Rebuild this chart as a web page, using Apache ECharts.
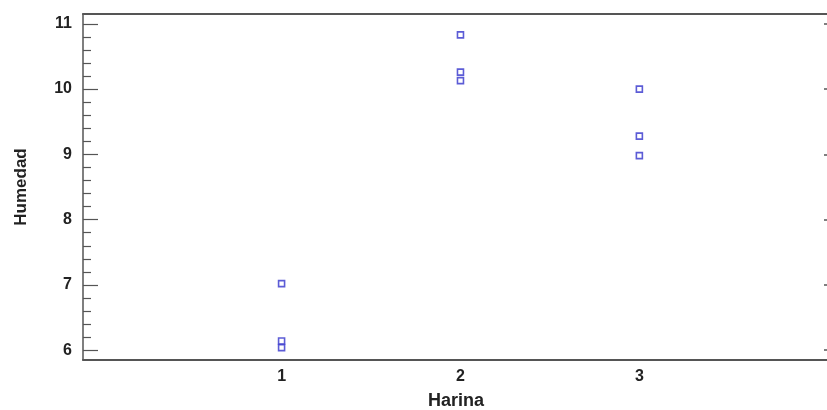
<!DOCTYPE html>
<html>
<head>
<meta charset="utf-8">
<script src="https://cdn.jsdelivr.net/npm/echarts@6/dist/echarts.min.js"></script>
<style>html,body{margin:0;padding:0;background:#fff}#c{width:827px;height:410px}</style>
</head>
<body>
<div id="c"></div>
<script>
const categories = [1, 2, 3];
const harina1 = [7.02, 6.14, 6.04];
const harina2 = [10.83, 10.26, 10.13];
const harina3 = [10.0, 9.28, 8.98];
const yTicks = [6, 7, 8, 9, 10, 11];
const xLabel = 'Harina';
const yLabel = 'Humedad';

const groups = [harina1, harina2, harina3];
const points = [];
groups.forEach((g, i) => g.forEach(v => points.push([categories[i], v])));
const minorTicks = [];
for (let i = 0; i < yTicks.length - 1; i++) {
  for (let k = 1; k < 5; k++) minorTicks.push(+(yTicks[i] + k * 0.2).toFixed(2));
}

const font = '"Liberation Sans", Arial, sans-serif';
const axisCol = '#555';
const txtCol = '#222';
const chart = echarts.init(document.getElementById('c'));
chart.setOption({
  animation: false,
  grid: { left: 83, right: -2, top: 14, bottom: 50, show: false, containLabel: false, outerBoundsMode: 'none' },
  xAxis: [
    {
      type: 'value', min: -0.11, max: 4.06, position: 'bottom', offset: 0,
      splitLine: { show: false },
      axisLine: { show: true, onZero: false, lineStyle: { color: axisCol, width: 2 } },
      axisTick: { show: false },
      axisLabel: { customValues: categories, color: txtCol, fontWeight: 'bold', fontSize: 16, fontFamily: font, margin: 9 },
      name: xLabel, nameLocation: 'middle', nameGap: 32,
      nameTextStyle: { color: txtCol, fontWeight: 'bold', fontSize: 18, fontFamily: font }
    },
    {
      type: 'value', min: -0.11, max: 4.06, position: 'top', offset: 0,
      splitLine: { show: false },
      axisLine: { show: true, onZero: false, lineStyle: { color: axisCol, width: 2 } },
      axisTick: { show: false },
      axisLabel: { show: false }
    }
  ],
  yAxis: [
    {
      type: 'value', min: 5.85, max: 11.15, position: 'left', offset: 0,
      splitLine: { show: false },
      axisLine: { show: true, onZero: false, lineStyle: { color: axisCol, width: 1.5 } },
      axisTick: { show: true, inside: true, length: 15, customValues: yTicks, lineStyle: { color: axisCol, width: 1.2 } },
      axisLabel: { customValues: yTicks, color: txtCol, fontWeight: 'bold', fontSize: 16, fontFamily: font, margin: 11 },
      name: yLabel, nameLocation: 'middle', nameGap: 53, nameRotate: 90,
      nameTextStyle: { color: txtCol, fontWeight: 'bold', fontSize: 17, fontFamily: font }
    },
    {
      type: 'value', min: 5.85, max: 11.15, position: 'left', offset: 0,
      splitLine: { show: false },
      axisLine: { show: false, onZero: false },
      axisTick: { show: true, inside: true, length: 8, customValues: minorTicks, lineStyle: { color: axisCol, width: 1.2 } },
      axisLabel: { show: false }
    },
    {
      type: 'value', min: 5.85, max: 11.15, position: 'right', offset: 0,
      splitLine: { show: false },
      axisLine: { show: false, onZero: false },
      axisTick: { show: true, inside: true, length: 5, customValues: yTicks, lineStyle: { color: axisCol, width: 1.5 } },
      axisLabel: { show: false }
    }
  ],
  series: [{
    type: 'scatter',
    data: points,
    symbol: 'rect',
    symbolSize: 6,
    itemStyle: { color: '#fff', borderColor: '#3333cc', borderWidth: 1.6 }
  }]
});
</script>
</body>
</html>
